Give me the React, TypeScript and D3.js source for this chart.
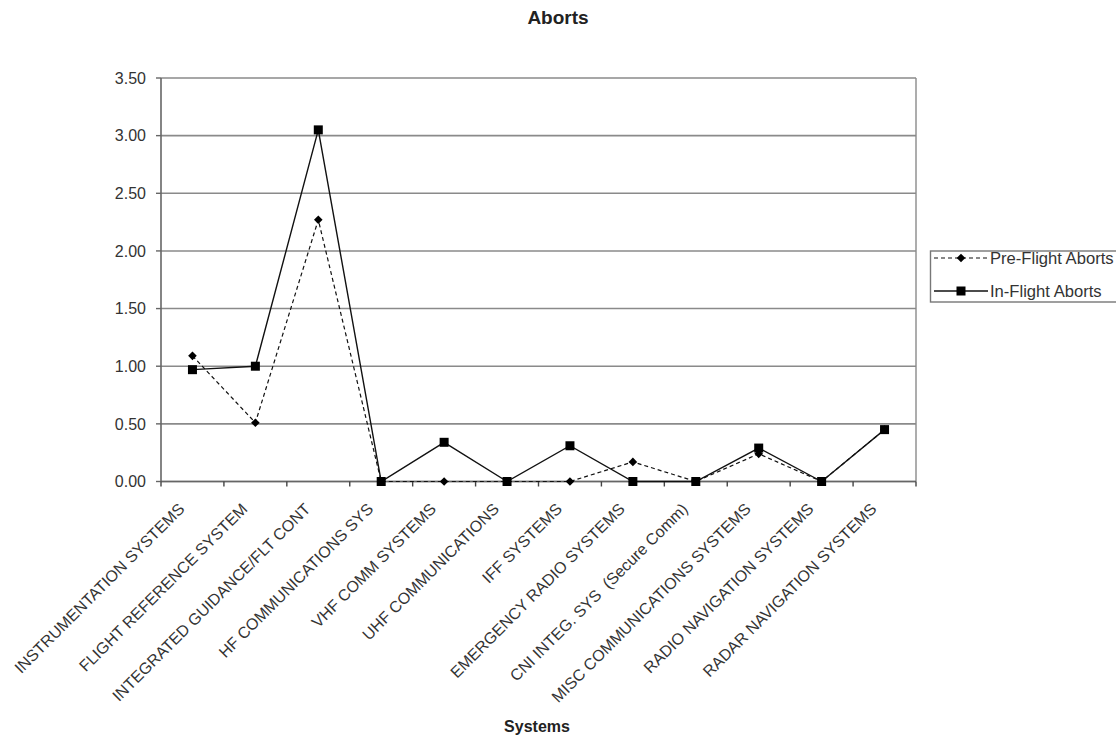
import React from "react";
import * as d3 from "d3";

const categories = [
  "INSTRUMENTATION SYSTEMS",
  "FLIGHT REFERENCE SYSTEM",
  "INTEGRATED GUIDANCE/FLT CONT",
  "HF COMMUNICATIONS SYS",
  "VHF COMM SYSTEMS",
  "UHF COMMUNICATIONS",
  "IFF SYSTEMS",
  "EMERGENCY RADIO SYSTEMS",
  "CNI INTEG. SYS  (Secure Comm)",
  "MISC COMMUNICATIONS SYSTEMS",
  "RADIO NAVIGATION SYSTEMS",
  "RADAR NAVIGATION SYSTEMS",
];
const preFlight = [1.09, 0.51, 2.27, 0, 0, 0, 0, 0.17, 0, 0.24, 0, 0.45];
const inFlight = [0.97, 1.0, 3.05, 0, 0.34, 0, 0.31, 0, 0, 0.29, 0, 0.45];
const yTicks = [0, 0.5, 1, 1.5, 2, 2.5, 3, 3.5];
const seriesNames = ["Pre-Flight Aborts", "In-Flight Aborts"];

const W = 1116;
const H = 740;
const L = 161, R = 916, T = 78, B = 481.5;
const FONT = "'Liberation Sans', Arial, sans-serif";
const GRID = "#8a8a8a";
const TXT = "#222";

export default function App() {
  const x = d3.scaleBand<string>().domain(categories).range([L, R]).padding(0);
  const y = d3.scaleLinear().domain([0, 3.5]).range([B, T]);
  const cx = (c: string) => (x(c) as number) + x.bandwidth() / 2;

  const line = d3
    .line<number>()
    .x((_, i) => cx(categories[i]))
    .y((v) => y(v));

  const diamond = (px: number, py: number, s = 4.3) =>
    `M${px},${py - s}L${px + s},${py}L${px},${py + s}L${px - s},${py}Z`;

  return (
    <svg
      width={W}
      height={H}
      style={{ position: "absolute", left: 0, top: 0, background: "#fff" }}
      fontFamily={FONT}
    >
      <rect x={0} y={0} width={W} height={H} fill="#fff" />
      <text x={558} y={24} textAnchor="middle" fontSize={19} fontWeight="bold" fill={TXT}>
        Aborts
      </text>

      {yTicks.map((t) => (
        <line key={"g" + t} x1={L} x2={R} y1={y(t)} y2={y(t)} stroke={GRID} strokeWidth={1.6} />
      ))}
      <line x1={R} x2={R} y1={T} y2={B} stroke={GRID} strokeWidth={1.4} />
      <line x1={L} x2={L} y1={T} y2={B} stroke="#666" strokeWidth={1.6} />
      {yTicks.map((t) => (
        <g key={"yt" + t}>
          <line x1={L - 5} x2={L} y1={y(t)} y2={y(t)} stroke="#666" strokeWidth={1.4} />
          <text x={146} y={y(t)} dy="0.36em" textAnchor="end" fontSize={16} fill="#333">
            {d3.format(".2f")(t)}
          </text>
        </g>
      ))}
      <line x1={L} x2={R} y1={B} y2={B} stroke="#666" strokeWidth={1.6} />
      {[...categories.map((c) => x(c) as number), R].map((p, i) => (
        <line key={"xt" + i} x1={p} x2={p} y1={B} y2={B + 5} stroke="#444" strokeWidth={1.4} />
      ))}
      {categories.map((c) => (
        <text
          key={"xl" + c}
          transform={`translate(${cx(c) - 7},${510}) rotate(-45)`}
          textAnchor="end"
          fontSize={16}
          fill="#333"
          style={{ whiteSpace: "pre" }}
        >
          {c}
        </text>
      ))}
      <text x={537} y={732} textAnchor="middle" fontSize={16} fontWeight="bold" fill={TXT}>
        Systems
      </text>

      <path d={line(preFlight) || ""} fill="none" stroke="#111" strokeWidth={1.2} strokeDasharray="4,3" />
      <path d={line(inFlight) || ""} fill="none" stroke="#111" strokeWidth={1.4} />
      {preFlight.map((v, i) => (
        <path key={"pm" + i} d={diamond(cx(categories[i]), y(v))} fill="#000" />
      ))}
      {inFlight.map((v, i) => (
        <rect key={"im" + i} x={cx(categories[i]) - 4.5} y={y(v) - 4.5} width={9} height={9} fill="#000" />
      ))}

      <rect x={930.5} y={251} width={200} height={51} fill="#fff" stroke="#777" strokeWidth={1.4} />
      <g>
        <line x1={934} x2={988} y1={258} y2={258} stroke="#111" strokeWidth={1.2} strokeDasharray="4,3" />
        <path d={diamond(961, 258)} fill="#000" />
        <text x={990} y={258} dy="0.36em" fontSize={16.6} fill="#333">
          {seriesNames[0]}
        </text>
        <line x1={934} x2={988} y1={291} y2={291} stroke="#111" strokeWidth={1.4} />
        <rect x={956.5} y={286.5} width={9} height={9} fill="#000" />
        <text x={990} y={291} dy="0.36em" fontSize={16.6} fill="#333">
          {seriesNames[1]}
        </text>
      </g>
    </svg>
  );
}
